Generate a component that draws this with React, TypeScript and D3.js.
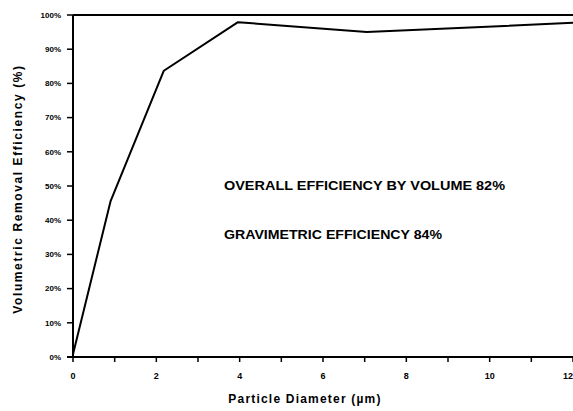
import React from 'react';
import { scaleLinear, line } from 'd3';

const diameters = [0, 0.9, 2.18, 3.96, 7.05, 12];
const efficiency = [0.8, 45.5, 83.7, 97.9, 95.0, 97.7];
const yTicks = [0, 10, 20, 30, 40, 50, 60, 70, 80, 90, 100];
const xMajor = [0, 2, 4, 6, 8, 10, 12];
const xMinor = [1, 3, 5, 7, 9, 11];
const notes = ['OVERALL EFFICIENCY BY VOLUME 82%', 'GRAVIMETRIC EFFICIENCY 84%'];

const width = 573;
const height = 411;
const margin = { top: 15, right: 0, bottom: 54, left: 73 };
const font = '"Liberation Sans", Arial, sans-serif';

const App = () => {
  const xScale = scaleLinear().domain([0, 12]).range([margin.left, width - margin.right]);
  const yScale = scaleLinear().domain([0, 100]).range([height - margin.bottom, margin.top]);

  const points = diameters.map((d, i) => [d, efficiency[i]] as [number, number]);
  const path = line<[number, number]>()
    .x(d => xScale(d[0]))
    .y(d => yScale(d[1]))(points);

  const y0 = yScale(0);

  return (
    <svg
      width={width}
      height={height}
      style={{ position: 'absolute', left: 0, top: 0, background: '#fff' }}
    >
      {/* frame */}
      <path d={`M ${margin.left} ${yScale(100)} H ${width}`} stroke="black" strokeWidth={2} />
      <path d={`M ${margin.left} ${yScale(100)} V ${y0}`} stroke="black" strokeWidth={2} />
      <path d={`M ${margin.left - 6} ${y0} H ${width}`} stroke="black" strokeWidth={2} />

      {yTicks.map(t => (
        <g key={t} transform={`translate(0, ${yScale(t)})`}>
          <line x1={margin.left - 6} x2={margin.left} stroke="black" strokeWidth={1.5} />
          <text
            x={margin.left - 12}
            dy="0.35em"
            textAnchor="end"
            style={{ fontSize: '8px', fontWeight: 'bold', fontFamily: font }}
          >
            {t}%
          </text>
        </g>
      ))}

      {xMajor.map((t, i) => (
        <g key={t} transform={`translate(${xScale(t)}, 0)`}>
          <line y1={y0} y2={y0 + 5} stroke="black" strokeWidth={1.5} />
          <text
            y={y0 + 22}
            textAnchor={i === xMajor.length - 1 ? 'end' : 'middle'}
            style={{ fontSize: '9px', fontWeight: 'bold', fontFamily: font }}
          >
            {t}
          </text>
        </g>
      ))}
      {xMinor.map(t => (
        <line key={t} x1={xScale(t)} x2={xScale(t)} y1={y0} y2={y0 + 5} stroke="black" strokeWidth={1.5} />
      ))}

      <path d={path || ''} fill="none" stroke="black" strokeWidth={2} strokeLinejoin="round" />

      <text
        x={224}
        y={190}
        textLength={281}
        lengthAdjust="spacingAndGlyphs"
        style={{ fontSize: '12px', fontWeight: 'bold', fontFamily: font }}
      >
        {notes[0]}
      </text>
      <text
        x={224}
        y={239}
        textLength={218}
        lengthAdjust="spacingAndGlyphs"
        style={{ fontSize: '12px', fontWeight: 'bold', fontFamily: font }}
      >
        {notes[1]}
      </text>

      <text
        x={305}
        y={403}
        textAnchor="middle"
        style={{ fontSize: '12px', fontWeight: 'bold', fontFamily: font, letterSpacing: '1.2px' }}
      >
        Particle Diameter (µm)
      </text>
      <text
        transform={`translate(22, 189) rotate(-90)`}
        textAnchor="middle"
        style={{ fontSize: '12px', fontWeight: 'bold', fontFamily: font, letterSpacing: '1.6px' }}
      >
        Volumetric Removal Efficiency (%)
      </text>
    </svg>
  );
};

export default App;
